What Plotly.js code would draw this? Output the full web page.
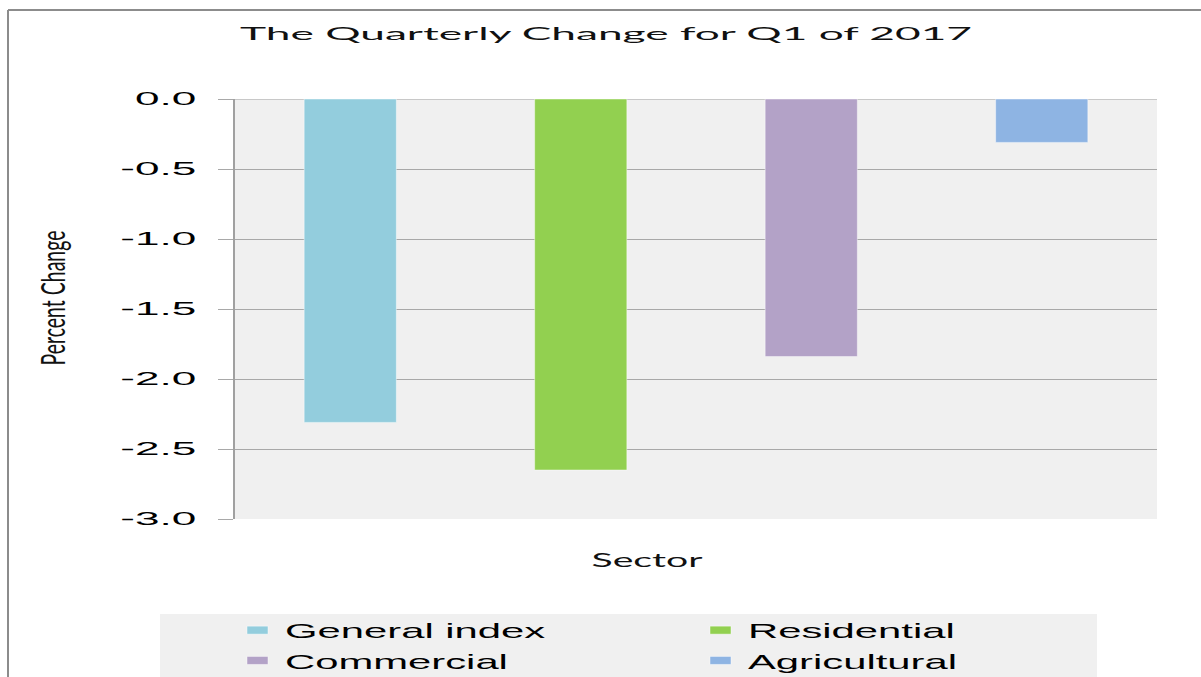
<!DOCTYPE html>
<html><head><meta charset="utf-8">
<script src="https://cdn.plot.ly/plotly-3.0.1.min.js"></script>
<style>html,body{margin:0;padding:0;background:#fff;overflow:hidden}</style>
</head><body>
<div id="chart" style="width:1201px;height:677px"></div>
<script>
const categories = ['General index', 'Residential', 'Commercial', 'Agricultural'];
const values = [-2.31, -2.65, -1.84, -0.31];
const colors = ['#93CDDD', '#92D050', '#B3A2C7', '#8EB4E3'];
const yTickVals = [0, -0.5, -1, -1.5, -2, -2.5, -3];
const yTickLabels = ['0.0', '-0.5', '-1.0', '-1.5', '-2.0', '-2.5', '-3.0'];
const chartTitle = 'The Quarterly Change for Q1 of 2017';
const xTitle = 'Sector';
const yTitle = 'Percent Change';

// pixel helpers for plot-area geometry
const W = 1201, H = 677, L = 235, R = 44, T = 99, B = 158;
const PW = W - L - R, PH = H - T - B;
const px = v => (v - L) / PW;
const py = v => (H - B - v) / PH;

const traces = categories.map((c, i) => ({
  type: 'bar',
  x: [c],
  y: [values[i]],
  name: c,
  width: 0.4,
  marker: { color: colors[i], line: { color: 'rgba(255,255,255,0.45)', width: 1 } },
  hoverinfo: 'x+y'
}));

const layout = {
  width: W, height: H,
  margin: { l: L, r: R, t: T, b: B, pad: 0, autoexpand: false },
  paper_bgcolor: '#ffffff',
  plot_bgcolor: '#f0f0f0',
  barmode: 'relative',
  title: {
    text: chartTitle,
    font: { family: 'Lato, Open Sans, sans-serif', size: 18, color: '#111111' },
    x: 606 / W, xref: 'container', xanchor: 'center',
    y: 1 - 34 / H, yref: 'container', yanchor: 'middle'
  },
  xaxis: {
    type: 'category',
    categoryorder: 'array', categoryarray: categories,
    range: [-0.5, 3.5],
    showticklabels: false, ticks: '', showgrid: false, zeroline: false, showline: false,
    title: { text: xTitle, font: { family: 'Lato, Open Sans, sans-serif', size: 19, color: '#111111' }, standoff: 34 }
  },
  yaxis: {
    range: [-3, 0],
    tickmode: 'array', tickvals: yTickVals, ticktext: yTickLabels,
    showgrid: true, gridcolor: '#a8a8a8', gridwidth: 1,
    zeroline: true, zerolinecolor: '#c8c8c8', zerolinewidth: 1,
    showline: true, linecolor: '#a0a0a0', linewidth: 2,
    ticks: 'outside', ticklen: 15, tickcolor: '#a8a8a8', tickwidth: 1,
    ticklabelstandoff: 18,
    tickfont: { family: 'Arial, Liberation Sans, sans-serif', size: 18, color: '#000000' },
    title: { text: yTitle, font: { family: 'Lato, Open Sans, sans-serif', size: 32, color: '#111111' }, standoff: 90 }
  },
  showlegend: true,
  legend: {
    orientation: 'h',
    x: 245 / W, xref: 'container', xanchor: 'left',
    y: 1 - 610 / H, yref: 'container', yanchor: 'top',
    bgcolor: 'rgba(0,0,0,0)', borderwidth: 0,
    entrywidth: 418, entrywidthmode: 'pixels',
    traceorder: 'normal',
    font: { family: 'Arial, Liberation Sans, sans-serif', size: 21, color: '#000000' }
  },
  shapes: [
    { type: 'rect', xref: 'paper', yref: 'paper', x0: px(160), x1: px(1097), y0: py(614), y1: py(690),
      fillcolor: '#f0f0f0', line: { width: 0 }, layer: 'below' },
    { type: 'line', xref: 'paper', yref: 'paper', x0: px(8), x1: px(1210), y0: py(10), y1: py(10),
      line: { color: '#8c8c8c', width: 2 } },
    { type: 'line', xref: 'paper', yref: 'paper', x0: px(8), x1: px(8), y0: py(10), y1: py(690),
      line: { color: '#8c8c8c', width: 2 } }
  ]
};

function stretchTo(el, target) {
  if (!el) return;
  el.setAttribute('textLength', target);
  el.setAttribute('lengthAdjust', 'spacingAndGlyphs');
}
function stretchBy(el, f) {
  if (!el) return;
  const w = el.getComputedTextLength();
  stretchTo(el, w * f);
}

Plotly.newPlot('chart', traces, layout, { displayModeBar: false, staticPlot: true }).then(gd => {
  stretchTo(gd.querySelector('.gtitle'), 732);
  gd.querySelectorAll('.ytick text').forEach(t => stretchBy(t, 2.45));
  gd.querySelectorAll('.legendtext').forEach(t => stretchBy(t, 1.99));
  // wide, flat legend swatches like the reference
  gd.querySelectorAll('.legendpoints path').forEach(p => p.setAttribute('d', 'M3,4H-18V-4H3Z'));
  const xt = gd.querySelector('.xtitle');
  if (xt) { xt.setAttribute('x', parseFloat(xt.getAttribute('x')) - 49); stretchTo(xt, 111); }
  const yt = gd.querySelector('.ytitle');
  if (yt) {
    stretchTo(yt, 135);
    yt.setAttribute('transform', 'translate(0,-11) ' + (yt.getAttribute('transform') || ''));
  }
});
</script>
</body></html>
